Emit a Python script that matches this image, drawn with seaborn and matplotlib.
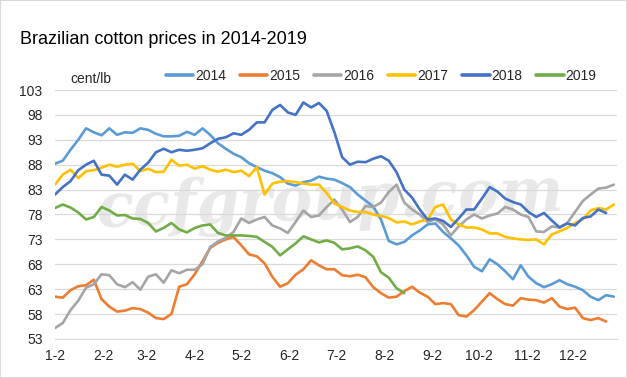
import numpy as np
import pandas as pd
import seaborn as sns
import matplotlib.pyplot as plt

# sampled every 5 days, day of year
days = list(range(2, 363, 5))
tick_days = [2, 33, 61, 92, 122, 153, 183, 214, 245, 275, 306, 336]
tick_labels = ['1-2', '2-2', '3-2', '4-2', '5-2', '6-2', '7-2', '8-2', '9-2', '10-2', '11-2', '12-2']

p2014 = [88.2, 88.8, 91.0, 93.0, 95.3, 94.5, 93.9, 95.3, 94.0, 94.5, 94.4, 95.3, 95.0, 94.2, 93.7, 93.7, 93.8, 94.6,
         94.0, 95.3, 94.0, 92.3, 91.2, 90.2, 89.5, 88.3, 87.5, 86.8, 86.3, 85.5, 84.2, 83.8, 84.5, 84.8, 85.6, 85.2,
         85.0, 84.3, 83.5, 82.0, 80.8, 79.6, 77.0, 72.7, 72.0, 72.5, 73.8, 74.8, 76.0, 76.2, 74.5, 73.2, 71.8, 69.8, 67.5,
         66.6, 69.0, 68.0, 66.6, 65.0, 67.8, 65.5, 64.2, 63.4, 64.0, 64.8, 64.0, 63.5, 62.8, 61.5, 60.8, 61.8, 61.5]
p2015 = [61.5, 61.3, 62.8, 63.6, 63.8, 64.9, 61.0, 59.5, 58.5, 58.7, 59.2, 59.0, 58.3, 57.2, 57.0, 58.0, 63.5, 64.0,
         66.0, 68.6, 71.3, 72.3, 73.0, 73.5, 71.8, 70.0, 69.6, 68.2, 65.5, 63.5, 64.2, 65.9, 67.0, 68.8, 67.8, 67.0,
         67.0, 65.8, 65.6, 65.9, 65.4, 63.4, 62.2, 61.3, 61.5, 62.6, 63.5, 62.3, 61.5, 60.0, 60.2, 60.0, 57.8, 57.5, 58.8,
         60.5, 62.2, 61.0, 60.0, 59.7, 61.2, 60.9, 60.8, 60.3, 61.2, 59.5, 59.0, 59.3, 57.2, 56.8, 57.2, 56.5, np.nan]
p2016 = [55.2, 56.2, 58.8, 60.7, 63.3, 64.0, 66.0, 65.8, 64.0, 63.4, 64.4, 62.9, 65.5, 66.0, 64.3, 66.8, 66.2, 66.9,
         66.9, 68.0, 71.5, 72.6, 73.3, 74.5, 77.2, 76.3, 77.0, 77.5, 75.8, 75.2, 74.3, 76.5, 78.8, 77.5, 77.8, 79.5,
         81.0, 79.0, 76.5, 77.5, 79.7, 79.5, 80.4, 82.5, 84.0, 80.4, 79.0, 78.0, 76.5, 77.0, 76.0, 73.8, 75.6, 77.0, 78.0,
         77.2, 77.8, 78.2, 79.5, 79.0, 78.0, 77.5, 74.6, 74.5, 75.6, 75.4, 76.3, 78.5, 80.7, 82.0, 83.2, 83.4, 84.0]
p2017 = [84.0, 86.0, 87.0, 85.3, 86.7, 86.9, 87.4, 88.0, 87.6, 88.0, 88.2, 86.7, 87.2, 86.5, 86.6, 89.0, 87.8, 88.0,
         87.2, 87.7, 87.0, 86.6, 87.0, 86.5, 86.8, 85.7, 87.5, 82.0, 84.2, 84.6, 84.7, 84.5, 84.2, 84.0, 84.0, 82.3,
         80.2, 79.5, 78.8, 78.5, 78.5, 78.0, 77.7, 77.3, 76.4, 76.6, 76.0, 76.6, 77.0, 79.5, 80.0, 77.0, 76.0, 75.4, 75.4,
         75.0, 74.2, 74.2, 73.5, 73.2, 73.0, 72.9, 73.0, 72.0, 74.0, 74.6, 75.3, 76.3, 77.0, 78.8, 79.3, 79.0, 80.0]
p2018 = [82.0, 83.5, 84.7, 86.9, 88.0, 88.8, 86.0, 85.8, 84.0, 86.0, 85.0, 87.0, 88.4, 90.5, 91.2, 90.5, 91.0, 90.8,
         91.0, 91.3, 92.3, 93.2, 93.5, 94.3, 94.0, 95.0, 96.5, 96.5, 99.0, 100.0, 98.5, 98.0, 100.5, 99.5, 100.4, 98.8,
         94.5, 89.5, 88.0, 88.6, 88.5, 89.2, 89.7, 88.8, 86.5, 83.0, 81.4, 79.0, 77.0, 77.2, 76.7, 75.5, 77.2, 79.0, 79.0,
         81.2, 83.5, 82.6, 81.2, 80.5, 80.0, 78.5, 77.5, 78.3, 76.8, 75.4, 76.2, 75.8, 77.3, 77.6, 79.0, 78.3, np.nan]
p2019 = [79.3, 80.0, 79.4, 78.4, 77.0, 77.5, 79.5, 78.8, 77.8, 77.9, 77.2, 77.1, 76.3, 74.6, 75.3, 76.3, 75.0, 74.4,
         75.3, 75.8, 76.0, 74.3, 73.8, 73.8, 73.8, 73.7, 73.5, 72.5, 71.5, 69.8, 71.0, 72.2, 73.6, 73.0, 72.4, 72.8,
         72.3, 71.0, 71.2, 71.6, 70.8, 69.5, 66.4, 65.3, 63.2, 62.2] + [np.nan] * 27

years = ['2014', '2015', '2016', '2017', '2018', '2019']
colors = ['#5B9BD5', '#ED7D31', '#A5A5A5', '#FFC000', '#4472C4', '#70AD47']

df = pd.DataFrame({'day': days, '2014': p2014, '2015': p2015, '2016': p2016,
                   '2017': p2017, '2018': p2018, '2019': p2019})
long = df.melt(id_vars='day', var_name='year', value_name='price').dropna()

sns.set_style('white')
plt.rcParams['font.family'] = ['Liberation Sans Narrow', 'Liberation Sans', 'DejaVu Sans']

fig = plt.figure(figsize=(6.27, 3.78), dpi=100)
ax = fig.add_axes([0.0877, 0.1032, 0.8963, 0.6587])

# watermark
ax.text(0.49, 0.55, 'ccfgroup.com', transform=ax.transAxes, ha='center', va='center',
        fontsize=44, color='#D6D6D6', alpha=0.55, family='DejaVu Serif',
        style='italic', fontweight='bold', rotation=2, zorder=0)

sns.lineplot(data=long, x='day', y='price', hue='year', palette=colors, hue_order=years,
             estimator=None, linewidth=1.9, ax=ax, legend=False, zorder=3)

ax.set_xlim(2, 364)
ax.set_ylim(53, 103)
ax.set_yticks(np.arange(53, 104, 5))
ax.set_xticks(tick_days)
ax.set_xticklabels(tick_labels)
ax.set_xlabel('')
ax.set_ylabel('')
ax.grid(axis='y', color='#D9D9D9', linewidth=0.9)
ax.set_axisbelow(True)
for s in ['top', 'right', 'left']:
    ax.spines[s].set_visible(False)
ax.spines['bottom'].set_color('#D9D9D9')
ax.tick_params(axis='x', length=4.5, color='#D9D9D9', width=0.9, labelsize=10, pad=3, labelcolor='#262626')
ax.tick_params(axis='y', length=0, labelsize=10, pad=9, labelcolor='#262626')

fig.text(0.032, 0.895, 'Brazilian cotton prices in 2014-2019', fontsize=13, color='#000000', va='center')
fig.text(0.113, 0.79, 'cent/lb', fontsize=10, color='#262626', va='center')

handles = [plt.Line2D([], [], color=c, linewidth=2.6) for c in colors]
fig.legend(handles, years, loc='center left', bbox_to_anchor=(0.264, 0.8), ncol=6,
           frameon=False, fontsize=10, handlelength=2.0, handletextpad=0.15,
           columnspacing=0.95, borderaxespad=0, borderpad=0)

fig.patches.append(plt.Rectangle((0, 0), 1, 1, transform=fig.transFigure, fill=False,
                                 edgecolor='#D9D9D9', linewidth=1.5))

fig.savefig('out.png', dpi=100)
